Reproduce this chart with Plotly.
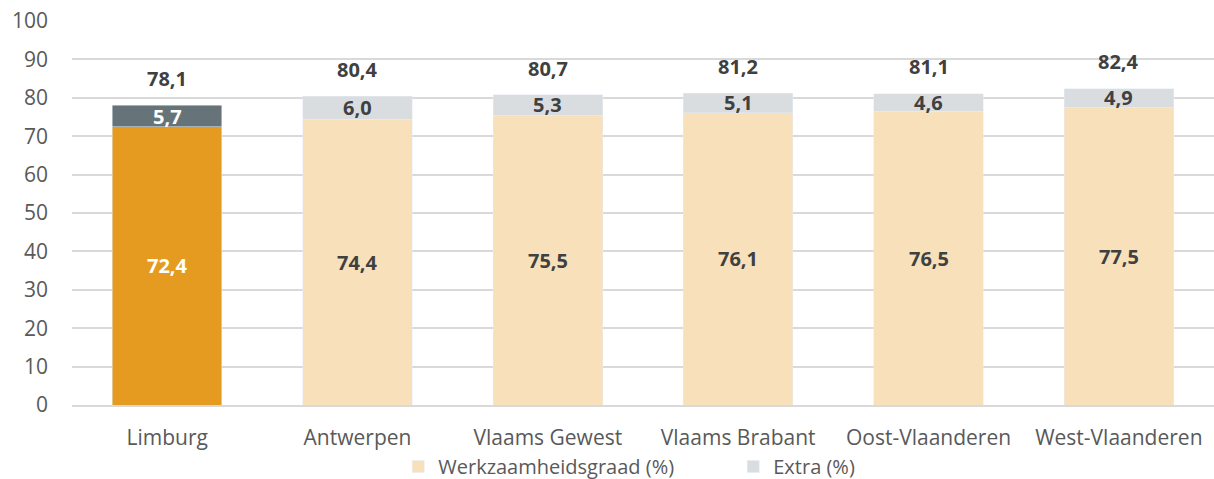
import plotly.graph_objects as go

provincies = ["Limburg", "Antwerpen", "Vlaams Gewest", "Vlaams Brabant",
              "Oost-Vlaanderen", "West-Vlaanderen"]
werkzaamheid = [72.4, 74.4, 75.5, 76.1, 76.5, 77.5]
extra = [5.7, 6.0, 5.3, 5.1, 4.6, 4.9]
totaal = [78.1, 80.4, 80.7, 81.2, 81.1, 82.4]


def fmt(v):
    return f"{v:.1f}".replace(".", ",")


FONT = "'Open Sans', sans-serif"

fig = go.Figure()

# overige provincies (legende)
fig.add_trace(go.Bar(x=provincies[1:], y=werkzaamheid[1:], name="Werkzaamheidsgraad (%)",
                     marker_color="#F8E0BB", width=0.575))
fig.add_trace(go.Bar(x=provincies[1:], y=extra[1:], name="Extra (%)",
                     marker_color="#DADDE0", width=0.575))
# Limburg uitgelicht
fig.add_trace(go.Bar(x=provincies[:1], y=werkzaamheid[:1], showlegend=False,
                     marker_color="#E59B20", width=0.575))
fig.add_trace(go.Bar(x=provincies[:1], y=extra[:1], showlegend=False,
                     marker_color="#667479", width=0.575))

for i, p in enumerate(provincies):
    kleur = "white" if i == 0 else "#404040"
    fig.add_annotation(x=p, y=werkzaamheid[i] / 2, text=fmt(werkzaamheid[i]),
                       showarrow=False, font=dict(size=20, color=kleur, family=FONT, weight="bold"))
    fig.add_annotation(x=p, y=werkzaamheid[i] + extra[i] / 2, text=fmt(extra[i]),
                       showarrow=False, font=dict(size=20, color=kleur, family=FONT, weight="bold"))
    fig.add_annotation(x=p, y=totaal[i], yshift=27, text=fmt(totaal[i]),
                       showarrow=False, font=dict(size=20, color="#404040", family=FONT, weight="bold"))

fig.update_layout(
    barmode="stack",
    width=1214, height=479,
    margin=dict(l=72, r=0, t=21, b=74),
    plot_bgcolor="white", paper_bgcolor="white",
    font=dict(family=FONT, size=21, color="#595959"),
    legend=dict(orientation="h", xref="container", x=0.604, xanchor="center", yref="container",
                y=0.026, yanchor="middle", entrywidth=290,
                font=dict(size=20, color="#595959"), traceorder="normal"),
    bargap=0.425,
)
fig.update_yaxes(range=[0, 100], dtick=10, showgrid=True, gridcolor="#D9D9D9", gridwidth=1.5,
                 zeroline=False, ticks="", ticklabelstandoff=23, automargin=False)
fig.update_xaxes(showline=True, linecolor="#D9D9D9", linewidth=1.5, ticks="",
                 ticklabelstandoff=13, automargin=False,
                 categoryorder="array", categoryarray=provincies)

# body-marge van de pagina weg, zodat de figuur precies in het venster valt
fig.write_html("out.html", config={"displayModeBar": False},
               post_script="document.body.style.margin='0';")
